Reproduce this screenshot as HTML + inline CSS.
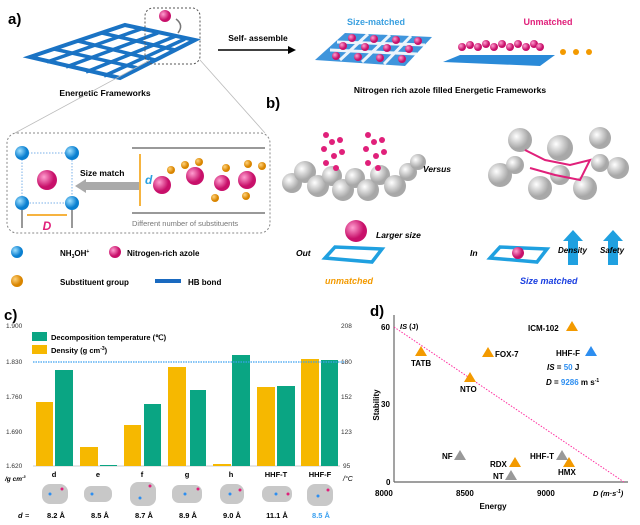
<!DOCTYPE html>
<html><head><meta charset="utf-8"><style>
body{margin:0;background:#fff}
svg{display:block;font-family:"Liberation Sans",Arial,sans-serif}
.b{font-weight:bold}
</style></head><body>
<svg width="640" height="525" viewBox="0 0 640 525" xmlns="http://www.w3.org/2000/svg">
<defs>
<radialGradient id="gb" cx="35%" cy="35%"><stop offset="0" stop-color="#9fe0ff"/><stop offset="1" stop-color="#0a7fd0"/></radialGradient>
<radialGradient id="gp" cx="35%" cy="35%"><stop offset="0" stop-color="#ff9ed0"/><stop offset="1" stop-color="#c8106a"/></radialGradient>
<radialGradient id="go" cx="35%" cy="35%"><stop offset="0" stop-color="#ffd27a"/><stop offset="1" stop-color="#d98500"/></radialGradient>
<radialGradient id="gg" cx="35%" cy="35%"><stop offset="0" stop-color="#fff"/><stop offset="1" stop-color="#a8a8a8"/></radialGradient>
</defs>
<!-- panel a -->
<text x="8" y="24" class="b" font-size="15">a)</text>
<polygon points="30,57 125,25 195,40 120,78" fill="none" stroke="#1a73c4" stroke-width="4"/>
<g stroke="#1a73c4" stroke-width="3.5">
<line x1="54" y1="49" x2="138" y2="68"/><line x1="78" y1="41" x2="155" y2="60"/><line x1="102" y1="33" x2="175" y2="50"/>
<line x1="47" y1="62" x2="141" y2="29"/><line x1="66" y1="67" x2="158" y2="33"/><line x1="86" y1="72" x2="176" y2="36"/><line x1="104" y1="76" x2="185" y2="39"/>
</g>
<rect x="145" y="8" width="55" height="56" rx="8" fill="none" stroke="#555" stroke-dasharray="2,2"/>
<circle cx="165" cy="16" r="6" fill="url(#gp)"/>
<path d="M176,19 Q184,25 178,33" fill="none" stroke="#777" stroke-width="1.5"/>
<text x="105" y="96" class="b" font-size="8.5" text-anchor="middle">Energetic Frameworks</text>
<line x1="218" y1="50" x2="290" y2="50" stroke="#000" stroke-width="1.5"/><polygon points="296,50 288,46 288,54"/>
<text x="258" y="41" class="b" font-size="8.5" text-anchor="middle">Self- assemble</text>
<text x="376" y="25" class="b" font-size="9" fill="#3aa0e0" text-anchor="middle">Size-matched</text>
<text x="548" y="25" class="b" font-size="9" fill="#e0207a" text-anchor="middle">Unmatched</text>
<polygon points="315,60 345,33 432,37 405,66" fill="#2a8ad8" opacity="0.9"/>
<g stroke="#fff" stroke-width="3" opacity="0.9"><line x1="330" y1="50" x2="417" y2="54"/><line x1="337" y1="42" x2="425" y2="45"/><line x1="340" y1="60" x2="368" y2="34"/><line x1="362" y1="62" x2="390" y2="35"/><line x1="384" y1="64" x2="411" y2="36"/></g>
<g fill="url(#gp)"><circle cx="343" cy="46" r="4"/><circle cx="365" cy="47" r="4"/><circle cx="387" cy="48" r="4"/><circle cx="409" cy="49" r="4"/><circle cx="352" cy="38" r="4"/><circle cx="374" cy="39" r="4"/><circle cx="396" cy="40" r="4"/><circle cx="418" cy="41" r="4"/><circle cx="336" cy="56" r="4"/><circle cx="358" cy="57" r="4"/><circle cx="380" cy="58" r="4"/><circle cx="402" cy="59" r="4"/></g>
<polygon points="443,62 460,55 555,55 540,66" fill="#2a8ad8"/>
<g fill="url(#gp)"><circle cx="462" cy="47" r="4"/><circle cx="470" cy="45" r="4"/><circle cx="478" cy="47" r="4"/><circle cx="486" cy="44" r="4"/><circle cx="494" cy="47" r="4"/><circle cx="502" cy="44" r="4"/><circle cx="510" cy="47" r="4"/><circle cx="518" cy="44" r="4"/><circle cx="526" cy="47" r="4"/><circle cx="534" cy="44" r="4"/><circle cx="540" cy="47" r="4"/></g>
<g fill="#f39a00"><circle cx="563" cy="52" r="3"/><circle cx="576" cy="52" r="3"/><circle cx="589" cy="52" r="3"/></g>
<text x="450" y="93" class="b" font-size="8.5" text-anchor="middle">Nitrogen rich azole filled Energetic Frameworks</text>
<text x="266" y="108" class="b" font-size="15">b)</text>
<!-- inset -->
<line x1="15" y1="133" x2="150" y2="60" stroke="#bbb" stroke-width="0.8"/><line x1="265" y1="133" x2="200" y2="60" stroke="#bbb" stroke-width="0.8"/>
<rect x="7" y="133" width="263" height="100" rx="10" fill="none" stroke="#888" stroke-dasharray="2,2"/>
<rect x="22" y="153" width="50" height="50" fill="none" stroke="#7ab0e8" stroke-dasharray="1.5,1.5"/>
<line x1="22" y1="210" x2="22" y2="228" stroke="#333"/><line x1="72" y1="210" x2="72" y2="228" stroke="#333"/>
<line x1="27" y1="215" x2="67" y2="215" stroke="#f39a00" stroke-width="1.5"/>
<g fill="url(#gb)"><circle cx="22" cy="153" r="7"/><circle cx="72" cy="153" r="7"/><circle cx="22" cy="203" r="7"/><circle cx="72" cy="203" r="7"/></g>
<circle cx="47" cy="180" r="10" fill="url(#gp)"/>
<text x="47" y="230" class="b" font-size="12" font-style="italic" fill="#e0207a" text-anchor="middle">D</text>
<text x="80" y="176" class="b" font-size="8.5">Size match</text>
<rect x="84" y="182" width="55" height="8" fill="#aaa"/><polygon points="75,186 86,179 86,193" fill="#aaa"/>
<line x1="132" y1="148" x2="265" y2="148" stroke="#333"/><line x1="132" y1="213" x2="265" y2="213" stroke="#333"/>
<line x1="140" y1="154" x2="140" y2="206" stroke="#f39a00" stroke-width="1.5"/>
<text x="145" y="184" class="b" font-size="12" font-style="italic" fill="#29a0e0">d</text>
<g fill="url(#gp)"><circle cx="162" cy="185" r="9"/><circle cx="195" cy="176" r="9"/><circle cx="222" cy="183" r="8"/><circle cx="247" cy="180" r="9"/></g>
<g fill="url(#go)"><circle cx="171" cy="170" r="4"/><circle cx="185" cy="165" r="4"/><circle cx="199" cy="162" r="4"/><circle cx="226" cy="168" r="4"/><circle cx="215" cy="198" r="4"/><circle cx="248" cy="164" r="4"/><circle cx="262" cy="166" r="4"/><circle cx="246" cy="196" r="4"/></g>
<text x="132" y="226" font-size="7.5" fill="#777">Different number of substituents</text>
<circle cx="17" cy="252" r="6" fill="url(#gb)"/><text x="60" y="256" class="b" font-size="8" >NH<tspan font-size="5" dy="2">3</tspan><tspan dy="-2">OH</tspan><tspan font-size="5" dy="-3">+</tspan></text>
<circle cx="115" cy="252" r="6" fill="url(#gp)"/><text x="127" y="256" class="b" font-size="8">Nitrogen-rich azole</text>
<circle cx="17" cy="281" r="6" fill="url(#go)"/><text x="60" y="285" class="b" font-size="8">Substituent group</text>
<rect x="155" y="279" width="26" height="4" fill="#1a6ac0"/><text x="188" y="285" class="b" font-size="8">HB bond</text>
<!-- panel b graphics -->
<g fill="url(#gg)">
<circle cx="292" cy="183" r="10"/><circle cx="305" cy="172" r="11"/><circle cx="318" cy="186" r="11"/><circle cx="332" cy="176" r="10"/><circle cx="343" cy="190" r="11"/><circle cx="355" cy="178" r="10"/><circle cx="368" cy="190" r="11"/><circle cx="380" cy="175" r="10"/><circle cx="395" cy="186" r="11"/><circle cx="408" cy="172" r="9"/><circle cx="418" cy="162" r="8"/>
<circle cx="500" cy="175" r="12"/><circle cx="520" cy="140" r="12"/><circle cx="560" cy="148" r="13"/><circle cx="600" cy="138" r="11"/><circle cx="618" cy="168" r="11"/><circle cx="585" cy="188" r="12"/><circle cx="540" cy="188" r="12"/><circle cx="600" cy="163" r="9"/><circle cx="515" cy="165" r="9"/><circle cx="560" cy="175" r="10"/>
</g>
<g fill="#e0207a">
<circle cx="326" cy="135" r="3"/><circle cx="332" cy="142" r="3"/><circle cx="324" cy="149" r="3"/><circle cx="334" cy="156" r="3"/><circle cx="326" cy="163" r="3"/><circle cx="336" cy="168" r="3"/><circle cx="340" cy="140" r="3"/><circle cx="342" cy="152" r="3"/>
<circle cx="368" cy="135" r="3"/><circle cx="374" cy="142" r="3"/><circle cx="366" cy="149" r="3"/><circle cx="376" cy="156" r="3"/><circle cx="368" cy="163" r="3"/><circle cx="378" cy="168" r="3"/><circle cx="382" cy="140" r="3"/><circle cx="384" cy="152" r="3"/>
</g>
<g stroke="#e0207a" stroke-width="2" fill="none"><path d="M525,150 L545,160 L570,165 L590,160 L580,180 L555,175 L530,168"/></g>
<text x="437" y="172" class="b" font-size="8.5" font-style="italic" text-anchor="middle">Versus</text>
<circle cx="356" cy="231" r="11" fill="url(#gp)"/>
<polygon points="325,258 335,247 382,249 372,262" fill="none" stroke="#1fa0e0" stroke-width="3.5"/>
<text x="376" y="238" class="b" font-size="8.5" font-style="italic">Larger size</text>
<text x="296" y="256" class="b" font-size="8.5" font-style="italic">Out</text>
<text x="325" y="284" class="b" font-size="9" font-style="italic" fill="#f39a00">unmatched</text>
<polygon points="490,258 500,247 547,249 537,262" fill="none" stroke="#1fa0e0" stroke-width="3.5"/>
<circle cx="518" cy="253" r="6" fill="url(#gp)"/>
<text x="470" y="256" class="b" font-size="8.5" font-style="italic">In</text>
<g fill="#1fa0e0"><rect x="568" y="240" width="10" height="25"/><polygon points="563,241 573,230 583,241"/><rect x="608" y="240" width="10" height="25"/><polygon points="603,241 613,230 623,241"/></g>
<text x="558" y="253" class="b" font-size="8" font-style="italic">Density</text>
<text x="600" y="253" class="b" font-size="8" font-style="italic">Safety</text>
<text x="520" y="284" class="b" font-size="9" font-style="italic" fill="#1a3fe0">Size matched</text>
<!-- panel c -->
<text x="4" y="320" class="b" font-size="15">c)</text>
<g font-size="6.5" fill="#333"><text x="6" y="328">1.900</text><text x="6" y="364">1.830</text><text x="6" y="399">1.760</text><text x="6" y="434">1.690</text><text x="6" y="468">1.620</text>
<text x="341" y="328">208</text><text x="341" y="364">180</text><text x="341" y="399">152</text><text x="341" y="434">123</text><text x="343" y="468">95</text></g>
<line x1="33" y1="466" x2="340" y2="466" stroke="#ccc"/>
<g fill="#f6b800"><rect x="36" y="402" width="17" height="64"/><rect x="80" y="447" width="18" height="19"/><rect x="124" y="425" width="17" height="41"/><rect x="168" y="367" width="18" height="99"/><rect x="213" y="464" width="18" height="2"/><rect x="257" y="387" width="18" height="79"/><rect x="301" y="359" width="18" height="107"/></g>
<g fill="#0aa583"><rect x="55" y="370" width="18" height="96"/><rect x="100" y="465" width="17" height="1"/><rect x="144" y="404" width="17" height="62"/><rect x="190" y="390" width="16" height="76"/><rect x="232" y="355" width="18" height="111"/><rect x="277" y="386" width="18" height="80"/><rect x="321" y="360" width="17" height="106"/></g>
<line x1="33" y1="362" x2="345" y2="362" stroke="#3aa0f0" stroke-width="1.2" stroke-dasharray="1.5,1"/>
<rect x="32" y="332" width="15" height="9" fill="#0aa583"/><text x="51" y="340" class="b" font-size="7.5">Decomposition temperature (℃)</text>
<rect x="32" y="345" width="15" height="9" fill="#f6b800"/><text x="51" y="353" class="b" font-size="7.5">Density (g cm<tspan font-size="5" dy="-3">-3</tspan><tspan dy="3">)</tspan></text>
<g font-size="7.5" class="b" text-anchor="middle"><text x="54" y="477">d</text><text x="98" y="477">e</text><text x="142" y="477">f</text><text x="187" y="477">g</text><text x="231" y="477">h</text><text x="276" y="477">HHF-T</text><text x="320" y="477">HHF-F</text></g>
<text x="5" y="481" font-size="6.5" font-style="italic" class="b">/g cm<tspan font-size="4" dy="-3">-3</tspan></text>
<text x="343" y="481" font-size="7" font-style="italic">/°C</text>
<g fill="#c8c8c8"><rect x="42" y="484" width="26" height="20" rx="8"/><rect x="84" y="486" width="28" height="16" rx="7"/><rect x="130" y="482" width="26" height="24" rx="8"/><rect x="172" y="485" width="30" height="18" rx="7"/><rect x="220" y="484" width="24" height="20" rx="8"/><rect x="262" y="486" width="30" height="16" rx="7"/><rect x="307" y="484" width="26" height="22" rx="8"/></g>
<g fill="#2d8ef0"><circle cx="50" cy="494" r="1.5"/><circle cx="92" cy="494" r="1.5"/><circle cx="140" cy="498" r="1.5"/><circle cx="185" cy="494" r="1.5"/><circle cx="230" cy="494" r="1.5"/><circle cx="276" cy="494" r="1.5"/><circle cx="318" cy="496" r="1.5"/></g>
<g fill="#e0207a"><circle cx="62" cy="489" r="1.5"/><circle cx="150" cy="486" r="1.5"/><circle cx="198" cy="489" r="1.5"/><circle cx="240" cy="490" r="1.5"/><circle cx="288" cy="494" r="1.5"/><circle cx="328" cy="490" r="1.5"/></g>
<text x="18" y="518" font-size="7.5" class="b" font-style="italic">d</text><text x="25" y="518" font-size="7.5">=</text>
<g font-size="7.5" class="b" text-anchor="middle"><text x="56" y="518">8.2 Å</text><text x="100" y="518">8.5 Å</text><text x="144" y="518">8.7 Å</text><text x="188" y="518">8.9 Å</text><text x="232" y="518">9.0 Å</text><text x="277" y="518">11.1 Å</text><text x="321" y="518" fill="#3aa0f0">8.5 Å</text></g>
<!-- panel d -->
<text x="370" y="316" class="b" font-size="15">d)</text>
<line x1="394" y1="315" x2="394" y2="482" stroke="#666" stroke-width="1.2"/><line x1="394" y1="482" x2="628" y2="482" stroke="#666" stroke-width="1.2"/>
<line x1="394" y1="327" x2="624" y2="482" stroke="#ff2fa0" stroke-width="1" stroke-dasharray="1.5,1.5"/>
<g font-size="8" class="b"><text x="381" y="330">60</text><text x="381" y="407">30</text><text x="386" y="485">0</text>
<text x="375" y="496">8000</text><text x="456" y="496">8500</text><text x="537" y="496">9000</text></g>
<text x="400" y="329" font-size="7.5" class="b" font-style="italic">IS <tspan font-style="normal">(J)</tspan></text>
<text x="593" y="496" font-size="7.5" class="b" font-style="italic">D (m·s<tspan font-size="5" dy="-3">-1</tspan><tspan dy="3">)</tspan></text>
<text x="493" y="509" font-size="8" class="b" text-anchor="middle">Energy</text>
<text x="379" y="405" font-size="8" class="b" text-anchor="middle" transform="rotate(-90 379 405)">Stability</text>
<g fill="#f39a00"><polygon points="572,321 566,331 578,331"/><polygon points="421,346 415,356 427,356"/><polygon points="488,347 482,357 494,357"/><polygon points="470,372 464,382 476,382"/><polygon points="515,457 509,467 521,467"/><polygon points="569,457 563,467 575,467"/></g>
<polygon points="591,346 585,356 597,356" fill="#2d8ef0"/>
<g fill="#999"><polygon points="460,450 454,460 466,460"/><polygon points="511,470 505,480 517,480"/><polygon points="562,450 556,460 568,460"/></g>
<g font-size="8" class="b"><text x="528" y="331">ICM-102</text><text x="411" y="366" >TATB</text><text x="495" y="357">FOX-7</text><text x="460" y="392">NTO</text>
<text x="556" y="356">HHF-F</text><text x="442" y="459">NF</text><text x="490" y="467">RDX</text><text x="493" y="479">NT</text><text x="530" y="459">HHF-T</text><text x="558" y="475">HMX</text>
<text x="547" y="370"><tspan font-style="italic">IS</tspan> = <tspan fill="#2d8ef0">50</tspan> J</text>
<text x="546" y="385"><tspan font-style="italic">D</tspan> = <tspan fill="#2d8ef0">9286</tspan> m s<tspan font-size="5" dy="-3">-1</tspan></text></g>
</svg>
</body></html>
